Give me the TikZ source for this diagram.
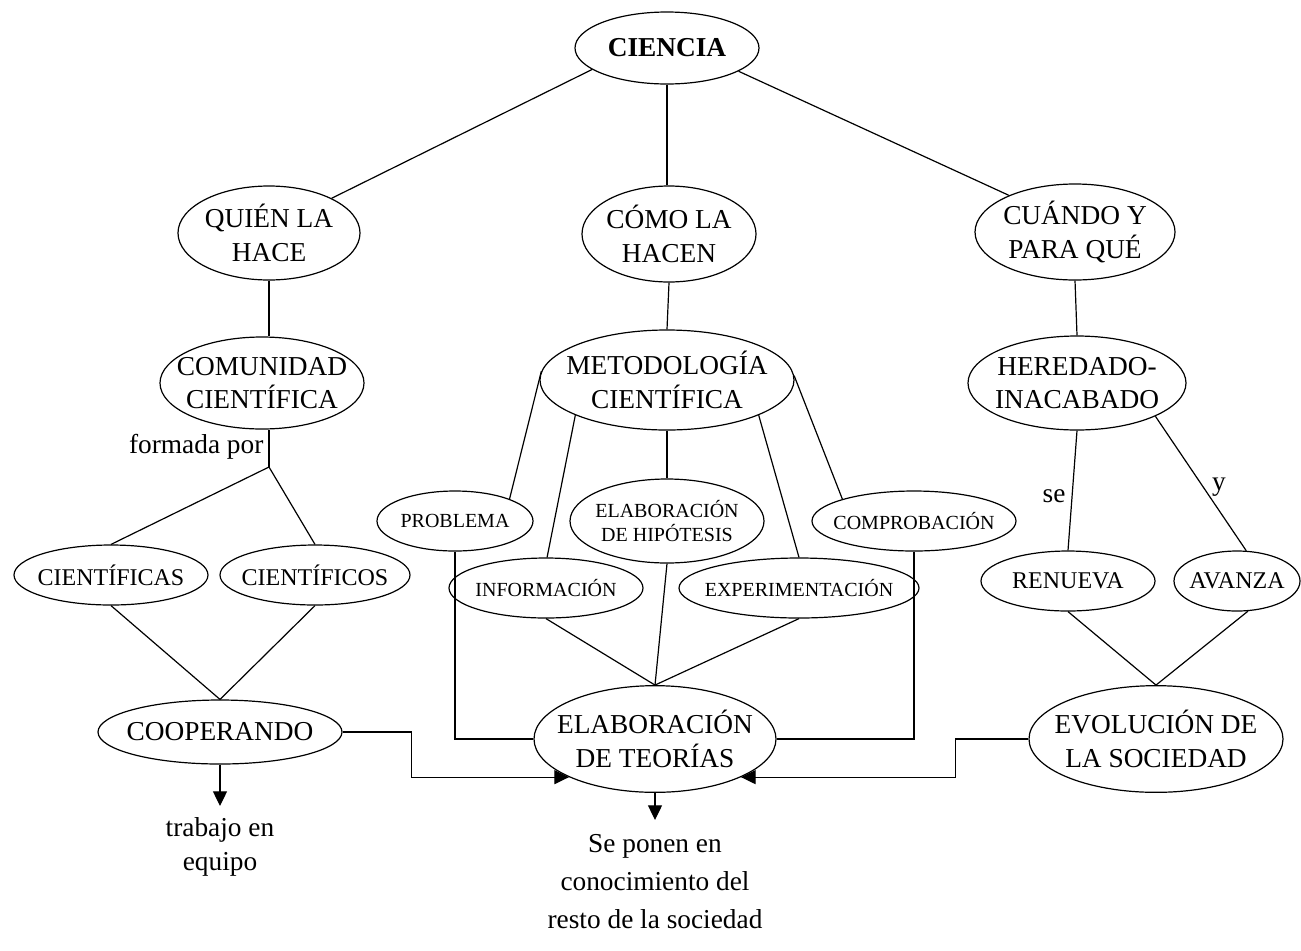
\documentclass[tikz,border=0pt]{standalone}
\usepackage{fontspec}
\setmainfont{Liberation Serif}
\usetikzlibrary{shapes.geometric,arrows.meta}
\newcommand\bigtxt{\fontsize{20.5}{25}\selectfont}
\newcommand\midtxt{\fontsize{18}{22}\selectfont}
\newcommand\smalltxt{\fontsize{15}{18}\selectfont}
\begin{document}
\begin{tikzpicture}[x=0.75pt,y=-0.75pt,line width=0.9pt,
  oval/.style 2 args={draw,ellipse,inner sep=-100pt,minimum width=#1,
    minimum height=#2,align=center,font=\bigtxt},
  word/.style={inner sep=0pt,align=center,font=\bigtxt},
  arr/.style={-{Triangle[length=11pt,width=10.5pt]}}]
\useasboundingbox (0,0) rectangle (1301,950);

% top level
\node[oval={138pt}{54pt},font=\bigtxt\bfseries] (cien) at (667,48) {CIENCIA};

% three questions
\node[oval={136.5pt}{70.5pt}] (quien)  at (269,233)  {QUIÉN LA\\HACE};
\node[oval={130.5pt}{72pt}]   (como)   at (669,234)  {CÓMO LA\\HACEN};
\node[oval={150pt}{72pt}]     (cuando) at (1075,232) {CUÁNDO Y\\PARA QUÉ};

% answers
\node[oval={153pt}{69pt}]     (comu) at (262,383)  {COMUNIDAD\\CIENTÍFICA};
\node[oval={190.5pt}{75pt}]   (meto) at (667,380)  {METODOLOGÍA\\CIENTÍFICA};
\node[oval={163.5pt}{70.5pt}] (here) at (1077,383) {HEREDADO-\\INACABADO};

% steps of the method
\node[oval={117pt}{45pt},font=\smalltxt]   (prob) at (455,521) {PROBLEMA};
\node[oval={145.5pt}{63pt},font=\smalltxt] (hipo) at (667,521) {ELABORACIÓN\\DE HIPÓTESIS};
\node[oval={153pt}{45pt},font=\smalltxt]   (comp) at (914,521) {COMPROBACIÓN};
\node[oval={145.5pt}{45pt},font=\smalltxt] (info) at (546,588) {INFORMACIÓN};
\node[oval={180pt}{45pt},font=\smalltxt]   (expe) at (799,588) {EXPERIMENTACIÓN};

% community members and progress
\node[oval={145.5pt}{45pt},font=\midtxt] (cas) at (111,575)  {CIENTÍFICAS};
\node[oval={142.5pt}{45pt},font=\midtxt] (cos) at (315,575)  {CIENTÍFICOS};
\node[oval={130.5pt}{45pt},font=\midtxt] (ren) at (1068,581) {RENUEVA};
\node[oval={94.5pt}{45pt},font=\midtxt]  (ava) at (1237,581) {AVANZA};

% results
\node[oval={183pt}{48pt}]    (coop) at (220,732)  {COOPERANDO};
\node[oval={181.5pt}{80pt}]  (teor) at (655,739)  {ELABORACIÓN\\DE TEORÍAS};
\node[oval={190.5pt}{80pt}]  (evol) at (1156,739) {EVOLUCIÓN DE\\LA SOCIEDAD};

% free ends
\coordinate (fp) at (269,467);
\coordinate (tw) at (220,806);
\coordinate (sp) at (655,820);

% connectors from the top
\draw (cien.196) -- (quien.29);
\draw (cien.south) -- (cien.south |- como.north);
\draw (cien.342) -- (cuando.151);
\draw (quien.south) -- (quien.south |- comu.north);
\draw (como.south) -- (meto.north);
\draw (cuando.south) -- (here.north);

% community branch
\draw (fp |- comu.south) -- (fp);
\node[word,anchor=base east] (fpl) at (264,453) {formada por};
\draw (fp) -- (cas.north);
\draw (fp) -- (cos.north);
\draw (cas.south) -- (coop.north);
\draw (cos.south) -- (coop.north);
\draw[arr] (coop.south) -- (tw);
\draw[arr] (coop.east) -- ++(69,0) |- (teor.south west);

% method branch
\draw (meto.176) -- (prob.22);
\draw (meto.201) -- (info.88);
\draw (meto.south) -- (hipo.north);
\draw (meto.339) -- (expe.90);
\draw (meto.2) -- (comp.163);
\draw (info.south) -- (teor.north);
\draw (hipo.south) -- (teor.north);
\draw (expe.south) -- (teor.north);
\draw (prob.south) |- (teor.west);
\draw (comp.south) |- (teor.east);
\draw[arr] (teor.south) -- (sp);

% society branch
\draw (here.south) -- (ren.north);
\draw (here.337) -- (ava.73);
\node[word,anchor=base east] (sel) at (1066,502) {se};
\node[word,anchor=base] (yl) at (1219,490) {y};
\draw (ren.south) -- (evol.north);
\draw (ava.290) -- (evol.north);
\draw[arr] (evol.west) -- ++(-73,0) |- (teor.south east);

% closing texts
\node[word] (twl) at (220,847) {trabajo en\\equipo};
\node[word,font=\fontsize{20.5}{28.5}\selectfont] (spl) at (655,882)
  {Se ponen en\\conocimiento del\\resto de la sociedad};
\end{tikzpicture}
\end{document}
